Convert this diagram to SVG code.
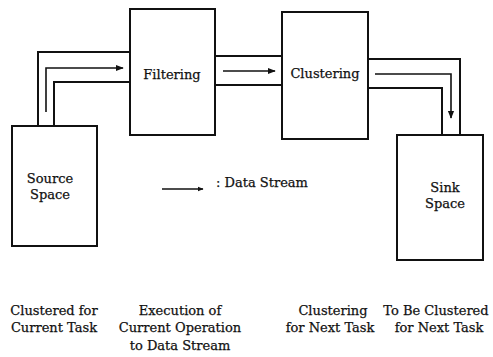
<svg xmlns="http://www.w3.org/2000/svg" width="493" height="357" viewBox="0 0 493 357">
  <style>
    .box { fill: #fff; stroke: #111; stroke-width: 2; }
    .pipe { fill: none; stroke: #111; stroke-width: 2; }
    .flow { fill: none; stroke: #111; stroke-width: 1.6; }
    text { font-family: "DejaVu Serif", "Liberation Serif", serif; font-size: 13px; fill: #111; stroke: #111; stroke-width: 0.25; text-anchor: middle; }
  </style>
  <defs>
    <marker id="head" viewBox="0 0 10 10" refX="9" refY="5" markerWidth="6" markerHeight="6" orient="auto" markerUnits="userSpaceOnUse">
      <path d="M0,1 L10,5 L0,9 z" fill="#111"/>
    </marker>
    <marker id="headBig" viewBox="0 0 10 10" refX="9" refY="5" markerWidth="8" markerHeight="8" orient="auto" markerUnits="userSpaceOnUse">
      <path d="M0,1 L10,5 L0,9 z" fill="#111"/>
    </marker>
  </defs>
  <rect width="493" height="357" fill="#fff"/>

  <g id="connectors">
    <!-- source to filtering pipe -->
    <path class="pipe" d="M38,126 V52 H130"/>
    <path class="pipe" d="M54,126 V82 H130"/>
    <path class="flow" d="M46,112 V68 H123" marker-end="url(#headBig)"/>
    <!-- filtering to clustering pipe -->
    <path class="pipe" d="M215,56 H282"/>
    <path class="pipe" d="M215,85 H282"/>
    <path class="flow" d="M223,71 H275" marker-end="url(#headBig)"/>
    <!-- clustering to sink pipe -->
    <path class="pipe" d="M368,59 H460 V135"/>
    <path class="pipe" d="M368,88 H442 V135"/>
    <path class="flow" d="M375,74 H451 V118" marker-end="url(#headBig)"/>
  </g>

  <g id="source">
    <rect class="box" x="12" y="126" width="85" height="120"/>
    <text x="50" y="183">Source</text>
    <text x="50" y="199">Space</text>
  </g>
  <g id="filtering">
    <rect class="box" x="130" y="9" width="85" height="126"/>
    <text x="172" y="79">Filtering</text>
  </g>
  <g id="clustering">
    <rect class="box" x="282" y="12" width="86" height="127"/>
    <text x="325" y="78">Clustering</text>
  </g>
  <g id="sink">
    <rect class="box" x="397" y="135" width="86" height="125"/>
    <text x="445" y="192">Sink</text>
    <text x="445" y="208">Space</text>
  </g>

  <g id="legend">
    <path class="flow" d="M162,189 H203" marker-end="url(#head)"/>
    <text x="262" y="187">: Data Stream</text>
  </g>

  <g id="labels">
    <text x="54" y="315">Clustered for</text>
    <text x="54" y="332">Current Task</text>
    <text x="180" y="315">Execution of</text>
    <text x="180" y="332">Current Operation</text>
    <text x="180" y="350">to Data Stream</text>
    <text x="333" y="315">Clustering</text>
    <text x="330" y="332">for Next Task</text>
    <text x="436" y="315">To Be Clustered</text>
    <text x="439" y="332">for Next Task</text>
  </g>
</svg>
